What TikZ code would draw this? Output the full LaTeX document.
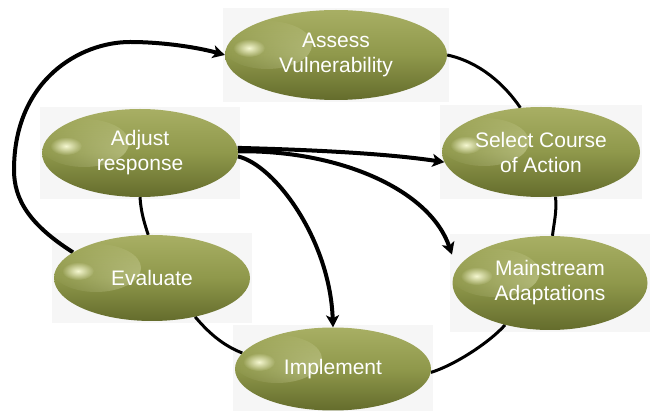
\documentclass[tikz,border=0pt]{standalone}
\usepackage{fontspec}
\setmainfont{Liberation Sans}
\usetikzlibrary{shapes.geometric,arrows.meta,fadings,backgrounds}
\definecolor{gelTop}{RGB}{168,175,100}
\definecolor{gelMid}{RGB}{143,152,75}
\definecolor{gelBot}{RGB}{100,108,44}
\definecolor{gelGlint}{RGB}{250,252,215}
\definecolor{tileGray}{RGB}{246,246,246}
\tikzfading[name=glint fade, inner color=transparent!0, outer color=transparent!100]
\newcommand\tilebehind[1]{
  \fill[tileGray] ([xshift=-2pt,yshift=2pt]#1.west |- #1.north) rectangle ([xshift=2pt,yshift=-2pt]#1.east |- #1.south);
}

\begin{document}
\begin{tikzpicture}[x=1pt, y=-1pt,
  stage/.style = {ellipse, inner sep=0pt, top color=gelTop, bottom color=gelBot, middle color=gelMid,
    text=white, align=center, font=\fontsize{21}{25}\selectfont,
    path picture={
      \fill[gelGlint, opacity=.35, path fading=glint fade]
        ([xshift=42pt,yshift=10pt]path picture bounding box.west) ellipse (45pt and 24pt);
      \fill[gelGlint, opacity=.95, path fading=glint fade]
        ([xshift=24pt,yshift=7pt]path picture bounding box.west) ellipse (16pt and 9pt);
    }},
  link/.style = {line width=3pt},
  flow/.style = {line width=4pt, -{Stealth[length=12pt,width=13pt,inset=3pt]}}]
	\useasboundingbox (0,0) rectangle (651,411);
	\node[stage, minimum width=222pt, minimum height=90pt] (assess) at (336,55) {Assess\\Vulnerability};
	\node[stage, minimum width=196pt, minimum height=88pt] (adjust) at (140,153) {Adjust\\response};
	\node[stage, minimum width=198pt, minimum height=90pt] (select) at (541,152) {Select Course\\of Action};
	\node[stage, minimum width=196pt, minimum height=86pt] (evaluate) at (152,278) {Evaluate};
	\node[stage, minimum width=195pt, minimum height=94pt] (mainstream) at (550,283) {Mainstream\\Adaptations};
	\node[stage, minimum width=196pt, minimum height=83pt] (implement) at (333,369) {Implement};
	\begin{scope}[on background layer]
	    \tilebehind{assess}
	    \tilebehind{adjust}
	    \tilebehind{select}
	    \tilebehind{evaluate}
	    \tilebehind{mainstream}
	    \tilebehind{implement}
	    % the cycle
	    \draw[link] (assess.east) .. controls (480,62) and (505,85) .. (select.115);
	    \draw[link] (select.-72) .. controls (557,212) and (554,222) .. (mainstream.87);
	    \draw[link] (mainstream.-137) .. controls (490,342) and (455,365) .. (implement.-2);
	    \draw[link] (implement.170) .. controls (222,345) and (208,332) .. (evaluate.-42);
	    \draw[link] (evaluate.95) .. controls (144,222) and (141,212) .. (adjust.south);
	    % feedback arrows
	    \draw[flow] (evaluate.162) .. controls (30,225) and (14,200) .. (14,170)
	        .. controls (14,80) and (80,42) .. (130,42)
	        .. controls (165,42) and (200,48) .. (assess.west);
	    \draw[flow] (adjust.3) .. controls (320,150) and (390,154) .. (select.186);
	    \draw[flow] (adjust.1) .. controls (340,150) and (430,190) .. ([xshift=-20pt]mainstream.160);
	    \draw[flow] (adjust.-2) .. controls (275,165) and (330,240) .. (implement.north);
	\end{scope}
\end{tikzpicture}
\end{document}
